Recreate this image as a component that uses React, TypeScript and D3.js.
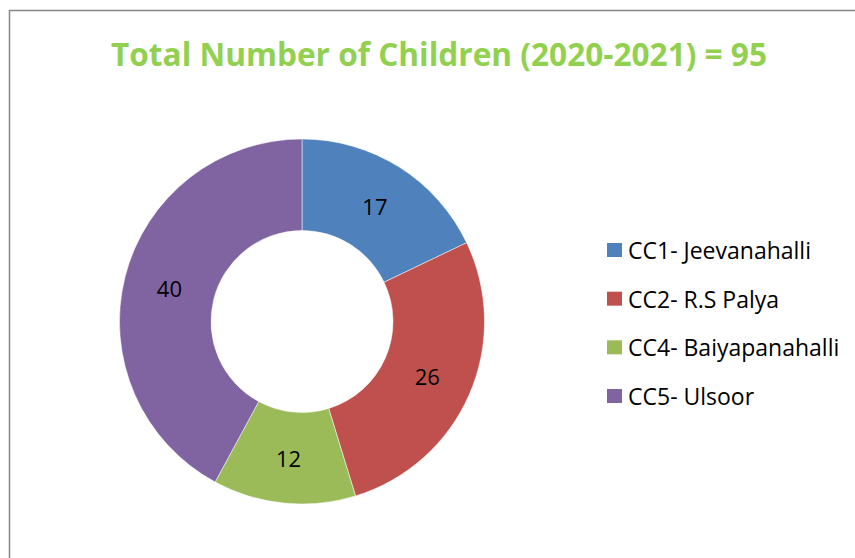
import { useEffect, useRef } from "react";
import * as d3 from "d3";

const categories = ["CC1- Jeevanahalli", "CC2- R.S Palya", "CC4- Baiyapanahalli", "CC5- Ulsoor"];
const values = [17, 26, 12, 40];
const colors = ["#4F81BD", "#C0504D", "#9BBB59", "#8064A2"];
const title = "Total Number of Children (2020-2021) = 95";

const WIDTH = 855;
const HEIGHT = 558;
const FONT = "'Open Sans', 'Noto Sans', sans-serif";

const DonutChart = () => {
	const svgRef = useRef<SVGSVGElement>(null);

	useEffect(() => {
		if (!svgRef.current) {
			return;
		}

		const svg = d3.select(svgRef.current);
		svg.selectAll("*").remove();

		// chart frame (runs off the right and bottom edges)
		svg
			.append("rect")
			.attr("x", 9.5)
			.attr("y", 10.5)
			.attr("width", 900)
			.attr("height", 600)
			.attr("fill", "#fff")
			.attr("stroke", "#868686")
			.attr("stroke-width", 1.5);

		svg
			.append("text")
			.attr("x", 439)
			.attr("y", 66)
			.attr("text-anchor", "middle")
			.attr("font-family", FONT)
			.attr("font-weight", 700)
			.attr("font-size", 32)
			.attr("fill", "#92D050")
			.attr("textLength", 656)
			.attr("lengthAdjust", "spacingAndGlyphs")
			.text(title);

		const cx = 302;
		const cy = 321.5;
		const outerRadius = 182.5;
		const innerRadius = 91;

		const pie = d3
			.pie<number>()
			.sort(null)
			.value((d) => d);

		const arc = d3
			.arc<d3.PieArcDatum<number>>()
			.innerRadius(innerRadius)
			.outerRadius(outerRadius);

		const donut = svg.append("g").attr("transform", `translate(${cx},${cy})`);

		const slices = donut
			.selectAll("g.slice")
			.data(pie(values))
			.join("g")
			.attr("class", "slice");

		slices
			.append("path")
			.attr("d", arc)
			.attr("fill", (_, i) => colors[i])
			.attr("stroke", "#fff")
			.attr("stroke-width", 0.5);

		slices
			.append("text")
			.attr("transform", (d) => `translate(${arc.centroid(d)})`)
			.attr("text-anchor", "middle")
			.attr("dominant-baseline", "central")
			.attr("font-family", FONT)
			.attr("font-size", 22)
			.attr("fill", "#000")
			.text((d) => d.data);

		const legendY = d3
			.scalePoint<string>()
			.domain(categories)
			.range([250, 396]);

		const legend = svg
			.append("g")
			.selectAll("g.item")
			.data(categories)
			.join("g")
			.attr("class", "item")
			.attr("transform", (d) => `translate(607,${legendY(d) ?? 0})`);

		legend
			.append("rect")
			.attr("y", -7)
			.attr("width", 15)
			.attr("height", 14)
			.attr("fill", (_, i) => colors[i]);

		legend
			.append("text")
			.attr("x", 21)
			.attr("dominant-baseline", "central")
			.attr("font-family", FONT)
			.attr("font-size", 23)
			.attr("fill", "#000")
			.text((d) => d);
	}, []);

	return (
		<svg
			ref={svgRef}
			width={WIDTH}
			height={HEIGHT}
			style={{ position: "absolute", left: 0, top: 0, background: "#fff" }}
		/>
	);
};

export default function App() {
	return <DonutChart />;
}
